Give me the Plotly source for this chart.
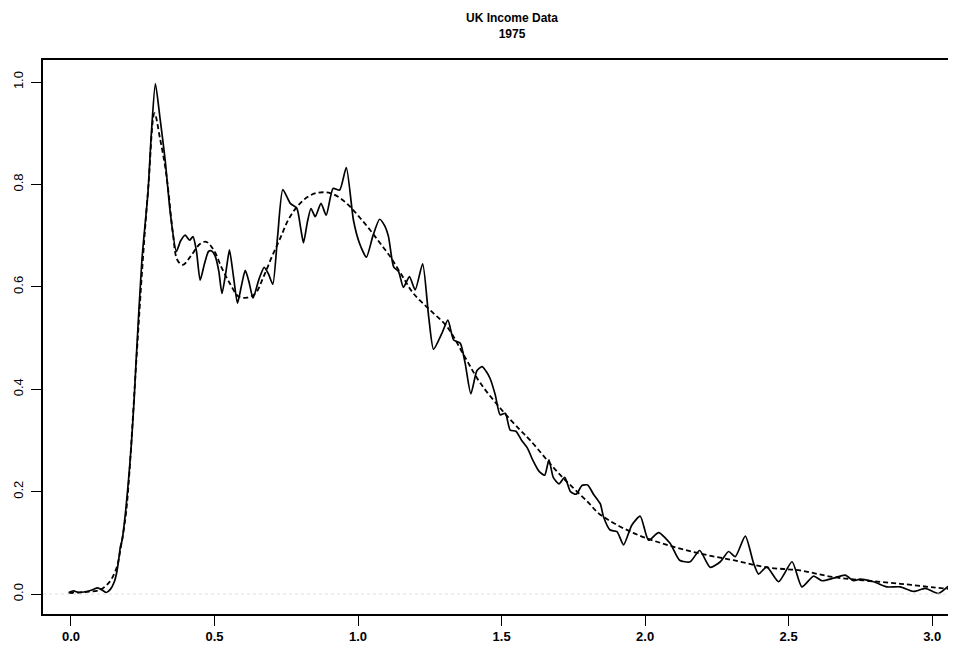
import plotly.graph_objects as go

title_lines = ["UK Income Data", "1975"]

x_ticks = [0.0, 0.5, 1.0, 1.5, 2.0, 2.5, 3.0]
x_tick_labels = ["0.0", "0.5", "1.0", "1.5", "2.0", "2.5", "3.0"]
y_ticks = [0.0, 0.2, 0.4, 0.6, 0.8, 1.0]
y_tick_labels = ["0.0", "0.2", "0.4", "0.6", "0.8", "1.0"]

# kernel estimate, small bandwidth (solid)
x_solid = [
    -0.008, 0.009, 0.027, 0.053, 0.073, 0.093, 0.108, 0.123, 0.137, 0.151,
    0.160, 0.166, 0.172, 0.178, 0.190, 0.200, 0.210, 0.220, 0.227, 0.247,
    0.268, 0.280, 0.294, 0.310, 0.328, 0.346, 0.367, 0.382, 0.398, 0.413,
    0.425, 0.437, 0.450, 0.465, 0.479, 0.490, 0.503, 0.515, 0.526, 0.540,
    0.552, 0.566, 0.580, 0.593, 0.607, 0.620, 0.634, 0.655, 0.673, 0.688,
    0.703, 0.720, 0.738, 0.764, 0.787, 0.800, 0.810, 0.823, 0.836, 0.851,
    0.871, 0.889, 0.913, 0.936, 0.959, 0.984, 1.005, 1.029, 1.052, 1.075,
    1.092, 1.106, 1.124, 1.141, 1.158, 1.179, 1.199, 1.225, 1.246, 1.263,
    1.292, 1.313, 1.333, 1.356, 1.373, 1.393, 1.414, 1.432, 1.446, 1.460,
    1.478, 1.495, 1.513, 1.530, 1.550, 1.570, 1.590, 1.610, 1.630, 1.650,
    1.665, 1.680, 1.700, 1.720, 1.740, 1.760, 1.780, 1.800, 1.820, 1.844,
    1.855, 1.878, 1.902, 1.925, 1.954, 1.983, 2.012, 2.047, 2.087, 2.120,
    2.157, 2.190, 2.227, 2.262, 2.291, 2.314, 2.349, 2.378, 2.395, 2.424,
    2.465, 2.512, 2.546, 2.587, 2.616, 2.656, 2.697, 2.726, 2.749, 2.796,
    2.842, 2.889, 2.935, 2.976, 3.022, 3.063, 3.084,
]
y_solid = [
    0.003, 0.006, 0.003, 0.005, 0.008, 0.012, 0.008, 0.003, 0.009, 0.024,
    0.044, 0.066, 0.092, 0.105, 0.160, 0.220, 0.290, 0.380, 0.457, 0.652,
    0.783, 0.900, 0.997, 0.930, 0.848, 0.744, 0.669, 0.690, 0.701, 0.691,
    0.698, 0.670, 0.613, 0.645, 0.669, 0.670, 0.659, 0.630, 0.587, 0.630,
    0.672, 0.620, 0.568, 0.600, 0.632, 0.610, 0.578, 0.615, 0.638, 0.625,
    0.605, 0.700, 0.790, 0.763, 0.753, 0.715, 0.686, 0.725, 0.753, 0.737,
    0.763, 0.740, 0.792, 0.789, 0.833, 0.730, 0.685, 0.658, 0.700, 0.732,
    0.720, 0.698, 0.639, 0.630, 0.599, 0.620, 0.594, 0.645, 0.542, 0.478,
    0.509, 0.535, 0.496, 0.490, 0.451, 0.391, 0.436, 0.444, 0.435, 0.421,
    0.389, 0.350, 0.353, 0.320, 0.318, 0.300, 0.285, 0.260, 0.240, 0.232,
    0.262, 0.228, 0.215, 0.228, 0.200, 0.195, 0.212, 0.213, 0.195, 0.176,
    0.151, 0.125, 0.122, 0.096, 0.135, 0.152, 0.105, 0.120, 0.099, 0.066,
    0.063, 0.085, 0.052, 0.063, 0.083, 0.073, 0.113, 0.060, 0.039, 0.053,
    0.024, 0.063, 0.014, 0.035, 0.026, 0.031, 0.037, 0.026, 0.029, 0.024,
    0.014, 0.014, 0.005, 0.011, 0.001, 0.017, 0.009,
]

# smoother estimate (dashed)
x_dash = [
    -0.008, 0.050, 0.100, 0.125, 0.143, 0.160, 0.172, 0.190, 0.200, 0.227,
    0.250, 0.270, 0.291, 0.310, 0.328, 0.340, 0.355, 0.371, 0.390, 0.416,
    0.450, 0.471, 0.497, 0.526, 0.555, 0.584, 0.613, 0.642, 0.671, 0.700,
    0.729, 0.758, 0.793, 0.828, 0.862, 0.903, 0.938, 0.973, 1.008, 1.042,
    1.077, 1.112, 1.150, 1.193, 1.250, 1.310, 1.370, 1.426, 1.500, 1.565,
    1.600, 1.700, 1.800, 1.844, 1.960, 2.076, 2.192, 2.308, 2.424, 2.540,
    2.656, 2.772, 2.889, 3.004, 3.060,
]
y_dash = [
    0.002, 0.004, 0.008, 0.018, 0.031, 0.053, 0.086, 0.150, 0.210, 0.450,
    0.650, 0.800, 0.939, 0.890, 0.835, 0.783, 0.704, 0.652, 0.643, 0.659,
    0.684, 0.688, 0.672, 0.636, 0.605, 0.581, 0.579, 0.587, 0.620, 0.659,
    0.695, 0.732, 0.760, 0.777, 0.784, 0.783, 0.773, 0.756, 0.734, 0.711,
    0.685, 0.659, 0.625, 0.587, 0.555, 0.522, 0.465, 0.412, 0.360, 0.320,
    0.300, 0.235, 0.180, 0.155, 0.119, 0.096, 0.079, 0.066, 0.052, 0.046,
    0.033, 0.026, 0.020, 0.013, 0.010,
]

# the page places the figure 8 px from the top-left corner
W, H = 948, 644
ML, MR, MT, MB = 35, 0, 52, 38
PW, PH = W - ML - MR, H - MT - MB

fig = go.Figure()
fig.add_hline(y=0, line=dict(color="#dddddd", width=1, dash="dot"))
fig.add_trace(go.Scatter(x=x_dash, y=y_dash, mode="lines",
                         line=dict(color="black", width=1.8, dash="5px,3px", shape="spline"),
                         showlegend=False))
fig.add_trace(go.Scatter(x=x_solid, y=y_solid, mode="lines",
                         line=dict(color="black", width=1.7, shape="spline", smoothing=0.6),
                         showlegend=False))

fig.add_annotation(text="<b>" + "<br>".join(title_lines) + "</b>",
                   xref="paper", yref="paper",
                   x=(504 - ML) / PW, y=1 + (MT - 1) / PH,
                   xanchor="center", yanchor="top", showarrow=False,
                   font=dict(family="Liberation Sans, Arial, sans-serif", size=12, color="black"))

fig.update_layout(
    width=W, height=H,
    margin=dict(l=ML, r=MR, t=MT, b=MB, autoexpand=False),
    paper_bgcolor="white", plot_bgcolor="white",
    xaxis=dict(range=[-0.0975, 3.083], tickvals=x_ticks, ticktext=x_tick_labels,
               automargin=False,
               showgrid=False, zeroline=False, showline=True, linecolor="black", linewidth=1.5,
               mirror=True, ticks="outside", ticklen=10, tickwidth=1.2, tickcolor="black",
               tickfont=dict(family="Liberation Sans Narrow, Arial Narrow, Liberation Sans, Arial, sans-serif",
                             size=13, color="black", weight="bold")),
    yaxis=dict(range=[-0.039, 1.043], tickvals=y_ticks, ticktext=y_tick_labels,
               automargin=False,
               showgrid=False, zeroline=False, showline=True, linecolor="black", linewidth=1.5,
               mirror=False, ticks="outside", ticklen=10, tickwidth=1.2, tickcolor="black",
               tickangle=-90, ticklabelstandoff=3,
               tickfont=dict(family="Liberation Sans, Arial, sans-serif", size=13, color="black")),
)

fig.write_html("out.html")
